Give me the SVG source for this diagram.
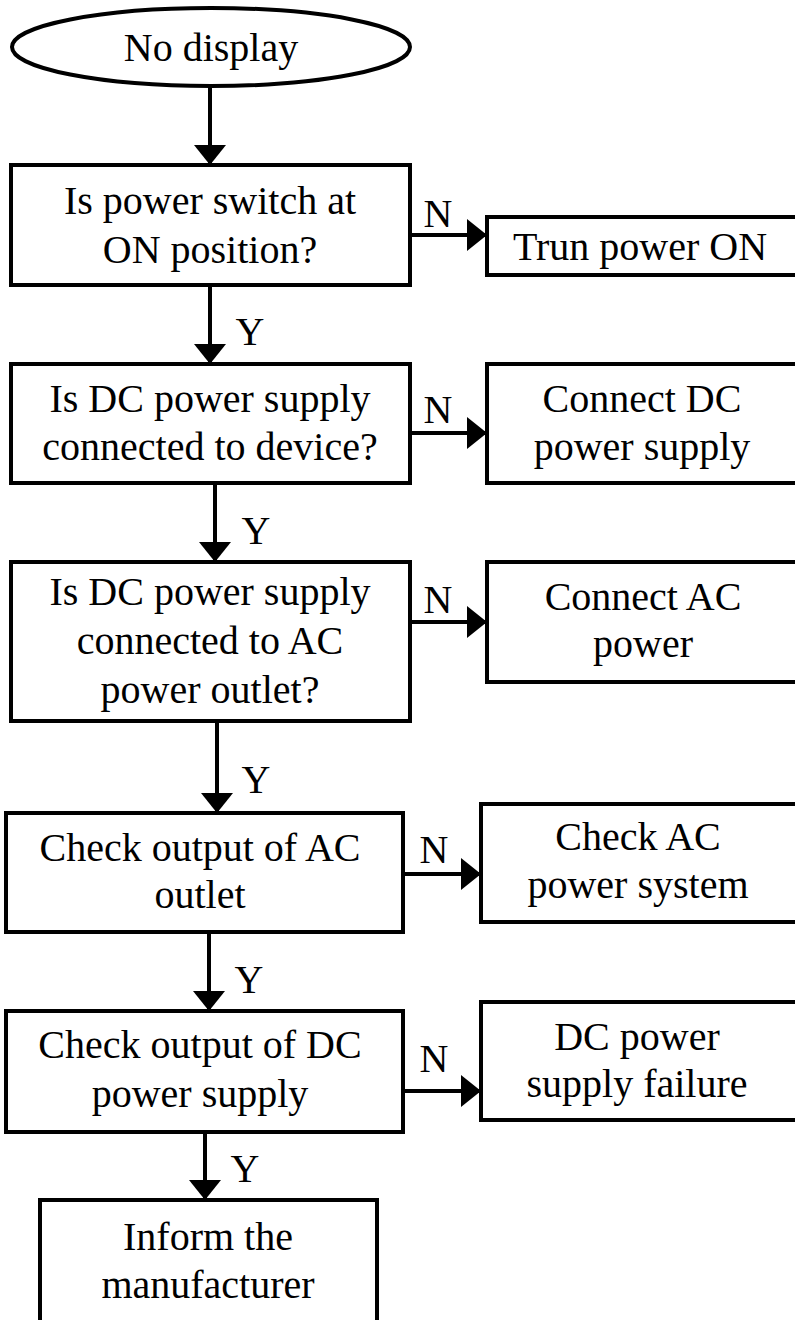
<svg xmlns="http://www.w3.org/2000/svg" width="795" height="1320" viewBox="0 0 795 1320">
  <style>
    .box { fill: #fff; stroke: #000; stroke-width: 4; }
    .t { font-family: "Liberation Serif", "Times New Roman", serif; font-size: 40px; fill: #000; text-anchor: middle; }
    .lbl { font-family: "Liberation Serif", "Times New Roman", serif; font-size: 40px; fill: #000; text-anchor: middle; }
    .c { fill: none; stroke: #000; stroke-width: 4; marker-end: url(#ah); }
  </style>
  <defs>
    <marker id="ah" markerUnits="userSpaceOnUse" markerWidth="22" markerHeight="34" refX="20" refY="16" orient="auto">
      <path d="M0,0 L20,16 L0,32 z" fill="#000"/>
    </marker>
  </defs>
  <rect width="795" height="1320" fill="#fff"/>

  <g id="connectors">
    <path class="c" d="M210,86 V165"/>
    <path class="c" d="M410,235 H487"/>
    <path class="c" d="M210,285 V364"/>
    <path class="c" d="M410,433 H487"/>
    <path class="c" d="M215,483 V562"/>
    <path class="c" d="M410,622 H487"/>
    <path class="c" d="M217,721 V813"/>
    <path class="c" d="M403,874 H481"/>
    <path class="c" d="M209,932 V1011"/>
    <path class="c" d="M403,1091 H481"/>
    <path class="c" d="M205,1132 V1200"/>
    <text class="lbl" x="438" y="227">N</text>
    <text class="lbl" x="250" y="345">Y</text>
    <text class="lbl" x="438" y="423">N</text>
    <text class="lbl" x="256" y="544">Y</text>
    <text class="lbl" x="438" y="613">N</text>
    <text class="lbl" x="256" y="793">Y</text>
    <text class="lbl" x="434" y="863">N</text>
    <text class="lbl" x="249" y="993">Y</text>
    <text class="lbl" x="434" y="1072">N</text>
    <text class="lbl" x="245" y="1182">Y</text>
  </g>

  <g id="start">
    <ellipse class="box" cx="211" cy="47" rx="199" ry="39"/>
    <text class="t" x="211" y="61">No display</text>
  </g>

  <g id="q1">
    <rect class="box" x="11" y="165" width="399" height="120"/>
    <text class="t" x="210" y="214">Is power switch at</text>
    <text class="t" x="210" y="263">ON position?</text>
  </g>
  <g id="a1">
    <rect class="box" x="487" y="217" width="320" height="58"/>
    <text class="t" x="640" y="260">Trun power ON</text>
  </g>

  <g id="q2">
    <rect class="box" x="11" y="364" width="399" height="119"/>
    <text class="t" x="210" y="412">Is DC power supply</text>
    <text class="t" x="210" y="460">connected to device?</text>
  </g>
  <g id="a2">
    <rect class="box" x="487" y="364" width="320" height="119"/>
    <text class="t" x="642" y="412">Connect DC</text>
    <text class="t" x="642" y="460">power supply</text>
  </g>

  <g id="q3">
    <rect class="box" x="11" y="562" width="399" height="159"/>
    <text class="t" x="210" y="605">Is DC power supply</text>
    <text class="t" x="210" y="654">connected to AC</text>
    <text class="t" x="210" y="703">power outlet?</text>
  </g>
  <g id="a3">
    <rect class="box" x="487" y="562" width="320" height="120"/>
    <text class="t" x="643" y="610">Connect AC</text>
    <text class="t" x="643" y="657">power</text>
  </g>

  <g id="q4">
    <rect class="box" x="6" y="813" width="397" height="119"/>
    <text class="t" x="200" y="861">Check output of AC</text>
    <text class="t" x="200" y="908">outlet</text>
  </g>
  <g id="a4">
    <rect class="box" x="481" y="804" width="326" height="118"/>
    <text class="t" x="638" y="850">Check AC</text>
    <text class="t" x="638" y="898">power system</text>
  </g>

  <g id="q5">
    <rect class="box" x="6" y="1011" width="397" height="121"/>
    <text class="t" x="200" y="1058">Check output of DC</text>
    <text class="t" x="200" y="1107">power supply</text>
  </g>
  <g id="a5">
    <rect class="box" x="481" y="1002" width="326" height="118"/>
    <text class="t" x="637" y="1050">DC power</text>
    <text class="t" x="637" y="1097">supply failure</text>
  </g>

  <g id="end">
    <rect class="box" x="40" y="1200" width="337" height="130"/>
    <text class="t" x="208" y="1250">Inform the</text>
    <text class="t" x="208" y="1298">manufacturer</text>
  </g>
</svg>
